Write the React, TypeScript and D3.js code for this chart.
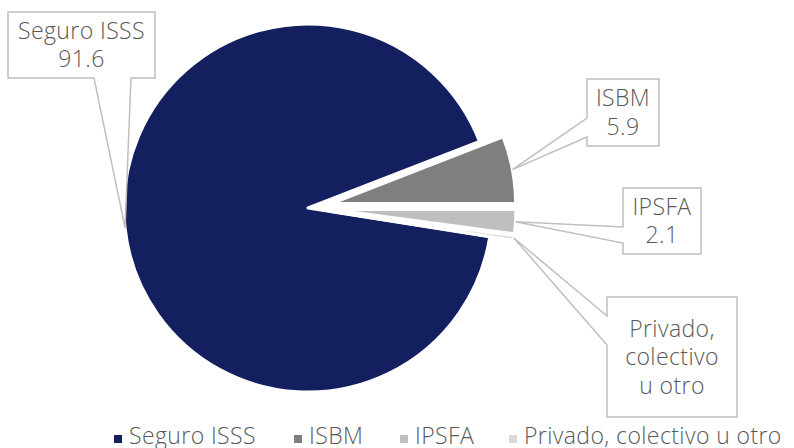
import React from "react";
import * as d3 from "d3";

// datos
const categories = ["Seguro ISSS", "ISBM", "IPSFA", "Privado, colectivo u otro"];
const values = [91.6, 5.9, 2.1, 0.4];
const labelLines = [["Seguro ISSS", "91.6"], ["ISBM", "5.9"], ["IPSFA", "2.1"], ["Privado,", "colectivo", "u otro"]];
const colors = ["#131f5e", "#7f7f7f", "#bfbfbf", "#d9d9d9"];
const explode = [0, 24, 24, 24];

// layout
const W = 794;
const H = 448;
const cx = 308;
const cy = 208;
const radius = 184;
const firstAngle = (99 * Math.PI) / 180;
const FONT = "'Open Sans', Lato, sans-serif";
const TEXT = "#595959";
const FS = 23;
const LS = 0.4;
const LH = 28.5;

// callout boxes: [x0, y0, x1, y1], side of the pointer and where it leaves the box
const callouts = [
  { box: [8, 12, 155, 78], side: "bottom", a: [94, 131] },
  { box: [587, 79, 659, 146], side: "left", a: [118, 137] },
  { box: [623, 188, 701, 254], side: "left", a: [227, 243] },
  { box: [607, 297, 737, 417], side: "left", a: [316, 345] }
];
const legendX = [114, 294, 400, 509];

function calloutPath(c, tip) {
  const [x0, y0, x1, y1] = c.box;
  const [a1, a2] = c.a;
  if (c.side === "bottom") {
    return `M${x0},${y0}L${x1},${y0}L${x1},${y1}L${a2},${y1}L${tip[0]},${tip[1]}L${a1},${y1}L${x0},${y1}Z`;
  }
  return `M${x0},${y0}L${x1},${y0}L${x1},${y1}L${x0},${y1}L${x0},${a2}L${tip[0]},${tip[1]}L${x0},${a1}Z`;
}

export default function App() {
  const pie = d3
    .pie<number>()
    .sort(null)
    .startAngle(firstAngle)
    .endAngle(firstAngle + 2 * Math.PI);
  const arcs = pie(values);
  const arc = d3.arc<d3.PieArcDatum<number>>().innerRadius(0).outerRadius(radius);

  const slices = arcs.map((a, i) => {
    const mid = (a.startAngle + a.endAngle) / 2;
    const dx = explode[i] * Math.sin(mid);
    const dy = -explode[i] * Math.cos(mid);
    const tip = [cx + dx + radius * Math.sin(mid), cy + dy - radius * Math.cos(mid)];
    return { a, dx, dy, tip };
  });

  return (
    <svg width={W} height={H} style={{ position: "absolute", left: 0, top: 0, fontFamily: FONT }}>
      <rect width={W} height={H} fill="#ffffff" />
      <g>
        {slices.map((s, i) => (
          <path
            key={i}
            d={arc(s.a) || ""}
            transform={`translate(${cx + s.dx},${cy + s.dy})`}
            fill={colors[i]}
            stroke="#ffffff"
            strokeWidth={3}
            strokeLinejoin="round"
          />
        ))}
      </g>
      <g>
        {callouts.map((c, i) => {
          const [x0, y0, x1, y1] = c.box;
          const mx = (x0 + x1) / 2;
          const my = (y0 + y1) / 2;
          const lines = labelLines[i];
          const first = my - ((lines.length - 1) * LH) / 2 + 8;
          return (
            <g key={i}>
              <path d={calloutPath(c, slices[i].tip)} fill="#ffffff" stroke="#bfbfbf" strokeWidth={1.5} />
              {lines.map((t, j) => (
                <text
                  key={j}
                  x={mx}
                  y={first + j * LH}
                  textAnchor="middle"
                  fontSize={FS}
                  fontWeight={300}
                  letterSpacing={LS}
                  fill={TEXT}
                >
                  {t}
                </text>
              ))}
            </g>
          );
        })}
      </g>
      <g>
        {categories.map((c, i) => (
          <g key={c}>
            <rect x={legendX[i]} y={435} width={8} height={8} fill={colors[i]} />
            <text x={legendX[i] + 15} y={444} fontSize={FS} fontWeight={300} letterSpacing={LS} fill={TEXT}>
              {c}
            </text>
          </g>
        ))}
      </g>
    </svg>
  );
}
